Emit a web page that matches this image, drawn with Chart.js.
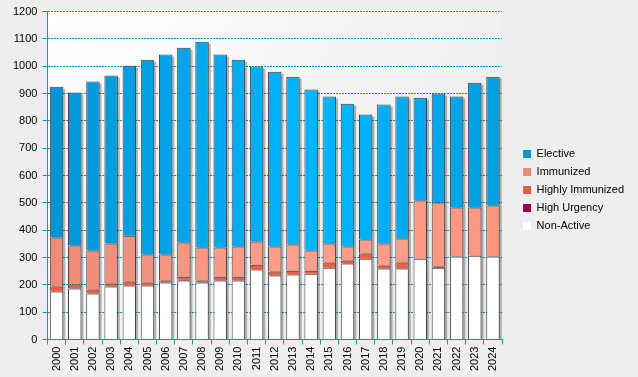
<!DOCTYPE html>
<html>
<head>
<meta charset="utf-8">
<script src="https://cdn.jsdelivr.net/npm/chart.js@4/dist/chart.umd.min.js"></script>
<style>
  html, body { margin: 0; padding: 0; background: #eeeeee; }
  #wrap { width: 638px; height: 377px; }
</style>
</head>
<body>
<div id="wrap"><canvas id="chart" width="638" height="377"></canvas></div>
<script>
const years = ["2000","2001","2002","2003","2004","2005","2006","2007","2008","2009","2010","2011","2012",
  "2013","2014","2015","2016","2017","2018","2019","2020","2021","2022","2023","2024"];
const nonActive = [176,187,168,194,198,198,209,216,209,216,216,256,234,238,241,263,278,296,260,260,296,263,304,307,304];
const highUrgency = [0,0,0,0,0,0,0,4,0,0,0,0,0,0,0,0,0,0,0,0,0,4,0,0,0];
const highlyImmunized = [18,14,15,11,14,11,7,10,7,14,14,18,15,14,11,19,11,19,11,22,0,0,0,0,0];
const immunized = [179,143,143,146,168,102,95,125,121,107,110,85,91,96,74,69,51,51,80,88,213,234,179,176,186];
const elective = [552,560,618,615,622,713,732,713,753,706,684,640,640,614,589,538,523,457,509,519,376,399,406,457,472];
const yTicks = [0,100,200,300,400,500,600,700,800,900,1000,1100,1200];

const blue = "#0096d6";
const font = { family: "Arial, 'Liberation Sans'", size: 11 };
const legendGap = 14;

// horizontal gradient across the plot, like the light effect in the picture
function hGrad(stops, solid) {
  return function (ctx) {
    const area = ctx.chart.chartArea;
    if (!area) return solid;
    const g = ctx.chart.ctx.createLinearGradient(area.left, 0, area.right, 0);
    stops.forEach(s => g.addColorStop(s[0], s[1]));
    return g;
  };
}

const bgPlugin = {
  id: "bg",
  beforeDraw(chart) {
    const c = chart.ctx, a = chart.chartArea;
    c.save();
    c.fillStyle = "#eeeeee";
    c.fillRect(0, 0, chart.width, chart.height);
    const g = c.createLinearGradient(a.left, a.top, a.right, a.bottom);
    g.addColorStop(0, "#ffffff");
    g.addColorStop(1, "#e9e9e9");
    c.fillStyle = g;
    c.fillRect(a.left, a.top, a.right - a.left, a.bottom - a.top);
    c.restore();
  }
};

// grey drop shadow behind each full stack
const shadowPlugin = {
  id: "shadow",
  beforeDatasetsDraw(chart) {
    const c = chart.ctx;
    const last = chart.getDatasetMeta(chart.data.datasets.length - 1).data;
    const first = chart.getDatasetMeta(0).data;
    c.save();
    c.fillStyle = "rgba(0,0,0,0.27)";
    last.forEach((bar, i) => {
      const w = bar.width;
      const top = bar.y;
      const bottom = first[i].base;
      c.fillRect(bar.x - w / 2 + 2, top + 2, w, bottom - top - 2);
    });
    c.restore();
  }
};

// push the legend right so there is a gap between plot and legend
const legendShift = {
  id: "legendShift",
  afterLayout(chart) {
    chart.legend.left += legendGap;
    chart.legend.right += legendGap;
  }
};

const legendColors = ["#ffffff", "#a0004f", "#f05a40", "#f08a78", "#0096d6"];

new Chart(document.getElementById("chart"), {
  type: "bar",
  data: {
    labels: years,
    datasets: [
      { label: "Non-Active", data: nonActive, backgroundColor: "#ffffff" },
      { label: "High Urgency", data: highUrgency, backgroundColor: "#a0004f" },
      { label: "Highly Immunized", data: highlyImmunized, backgroundColor: "#fa5a40" },
      { label: "Immunized", data: immunized,
        backgroundColor: hGrad([[0, "#ee8a78"], [0.55, "#ff9f8c"], [1, "#ff9680"]], "#f08a78") },
      { label: "Elective", data: elective,
        backgroundColor: hGrad([[0, "#0095d4"], [0.6, "#00b6ff"], [1, "#009ee0"]], "#0096d6") }
    ].map(d => Object.assign(d, {
      borderColor: "#404040",
      borderWidth: 1,
      borderSkipped: "start",
      barPercentage: 0.74,
      categoryPercentage: 1
    }))
  },
  options: {
    responsive: false,
    animation: false,
    devicePixelRatio: 1,
    layout: { padding: { left: 8, right: 4 + legendGap, top: 7, bottom: 4 } },
    plugins: {
      tooltip: { enabled: false },
      legend: {
        position: "right",
        reverse: true,
        labels: {
          boxWidth: 8,
          boxHeight: 8,
          padding: 7,
          color: "#000",
          font: font,
          generateLabels(chart) {
            return Chart.defaults.plugins.legend.labels.generateLabels(chart).map(l => {
              l.fillStyle = legendColors[l.datasetIndex];
              l.lineWidth = 0;
              l.strokeStyle = "rgba(0,0,0,0)";
              return l;
            });
          }
        }
      }
    },
    scales: {
      x: {
        stacked: true,
        grid: { display: true, drawOnChartArea: false, color: blue, tickLength: 5, offset: true },
        border: { color: blue, width: 1 },
        ticks: { color: "#000", minRotation: 90, maxRotation: 90, padding: 2, font: font }
      },
      y: {
        stacked: true,
        min: 0,
        max: 1200,
        afterBuildTicks(axis) { axis.ticks = yTicks.map(v => ({ value: v })); },
        grid: { color: blue, tickLength: 5, tickBorderDash: [], tickColor: blue },
        border: { color: blue, width: 1, dash: [2, 1] },
        ticks: { color: "#000", padding: 5, font: font, callback: v => String(v) }
      }
    }
  },
  plugins: [bgPlugin, shadowPlugin, legendShift]
});
</script>
</body>
</html>
